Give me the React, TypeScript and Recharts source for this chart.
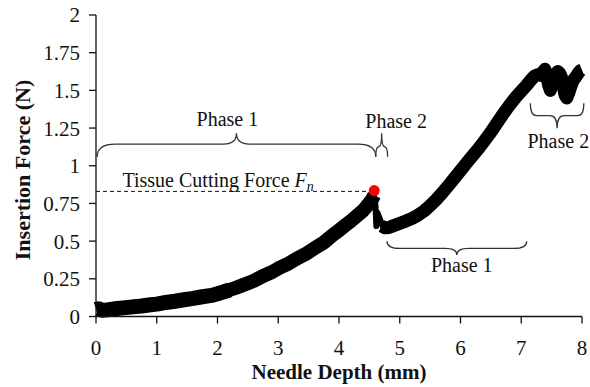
import React from 'react';
import { LineChart, Line, XAxis, YAxis, ReferenceLine, ReferenceDot, ReferenceArea, Label } from 'recharts';

const serif = "'Times New Roman', 'Liberation Serif', serif";

// axis ticks
const depthTicks = [0, 1, 2, 3, 4, 5, 6, 7, 8];
const forceTicks = [0, 0.25, 0.5, 0.75, 1, 1.25, 1.5, 1.75, 2];

// loading ramp up to the tissue-cutting event (early, noisier part)
const earlyDepth = [0, 0.04, 0.1, 0.18, 0.3, 0.45, 0.6, 0.75, 0.9, 1.0, 1.15, 1.3, 1.45, 1.6, 1.75, 1.9, 2.0, 2.1, 2.2];
const earlyForce = [0.047, 0.052, 0.042, 0.044, 0.051, 0.057, 0.064, 0.07, 0.078, 0.082, 0.093, 0.101, 0.111, 0.12, 0.131, 0.14, 0.151, 0.163, 0.177];

// loading ramp, later part
const rampDepth = [2.1, 2.2, 2.3, 2.45, 2.6, 2.75, 2.9, 3.0, 3.15, 3.3, 3.45, 3.6, 3.75, 3.9, 4.0, 4.1, 4.2, 4.3, 4.4, 4.48, 4.54, 4.58];
const rampForce = [0.163, 0.177, 0.19, 0.213, 0.237, 0.269, 0.295, 0.319, 0.347, 0.383, 0.414, 0.453, 0.491, 0.541, 0.571, 0.605, 0.635, 0.669, 0.704, 0.743, 0.774, 0.805];

// sudden drop after puncture
const dropDepth = [4.575, 4.6, 4.615, 4.63, 4.68, 4.72, 4.76];
const dropForce = [0.8, 0.74, 0.6, 0.69, 0.64, 0.6, 0.588];

// reloading after cutting
const reloadDepth = [4.7, 4.76, 4.82, 4.9, 5.0, 5.1, 5.2, 5.3, 5.4, 5.5, 5.6, 5.7, 5.8, 5.9, 6.0, 6.1, 6.2, 6.3, 6.4, 6.5, 6.6, 6.7, 6.8, 6.9, 7.0, 7.08, 7.15, 7.22, 7.28, 7.32, 7.36, 7.39, 7.42, 7.45, 7.48, 7.52, 7.56, 7.6, 7.63, 7.66, 7.69, 7.72, 7.75, 7.78, 7.82, 7.86, 7.9, 7.94, 7.97, 8.0];
const reloadForce = [0.6, 0.588, 0.59, 0.603, 0.618, 0.633, 0.65, 0.672, 0.7, 0.735, 0.775, 0.82, 0.868, 0.918, 0.968, 1.018, 1.067, 1.115, 1.168, 1.223, 1.283, 1.343, 1.398, 1.45, 1.495, 1.53, 1.565, 1.595, 1.605, 1.6, 1.625, 1.64, 1.6, 1.535, 1.5, 1.56, 1.6, 1.625, 1.615, 1.59, 1.53, 1.47, 1.45, 1.48, 1.53, 1.57, 1.59, 1.615, 1.63, 1.635];

// tissue cutting force point
const cuttingDepth = 4.58;
const cuttingForce = 0.835;
const cuttingLineForce = 0.83;

// annotation braces (data coordinates)
const braces = [
  { x1: 0.02, x2: 4.605, tip: 1.06, line: 1.144, cusp: 1.215, r1: 18, r2: 13 },
  { x1: 4.605, x2: 4.8, tip: 1.06, line: 1.126, cusp: 1.215, r1: 3, r2: 3 },
  { x1: 4.79, x2: 7.09, tip: 0.5, line: 0.452, cusp: 0.408, r1: 13, r2: 12 },
  { x1: 7.15, x2: 8.03, tip: 1.414, line: 1.332, cusp: 1.248, r1: 6, r2: 7 },
];

// annotation texts (data coordinates of anchor / baseline)
const phaseLabels = [
  { text: 'Phase 1', x: 2.163, y: 1.264 },
  { text: 'Phase 2', x: 4.94, y: 1.248 },
  { text: 'Phase 1', x: 6.02, y: 0.297 },
  { text: 'Phase 2', x: 7.61, y: 1.116 },
];
const cuttingLabel = { x: 0.436, y: 0.86 };

const toRows = (xs: number[], ys: number[]) => xs.map((d, i) => ({ depth: d, force: ys[i] }));

const braceShape = (b: any) => (p: any) => {
  const { x, y, width, height } = p;
  const x1 = x;
  const x2 = x + width;
  const xm = x + width / 2;
  const top = Math.max(b.tip, b.cusp);
  const bot = Math.min(b.tip, b.cusp);
  const toPx = (v: number) => y + (height * (top - v)) / (top - bot);
  const yT = toPx(b.tip);
  const yL = toPx(b.line);
  const yC = toPx(b.cusp);
  const d = `M${x1},${yT} Q${x1},${yL} ${x1 + b.r1},${yL} L${xm - b.r2},${yL} Q${xm},${yL} ${xm},${yC} Q${xm},${yL} ${xm + b.r2},${yL} L${x2 - b.r1},${yL} Q${x2},${yL} ${x2},${yT}`;
  return <path d={d} fill="none" stroke="#333" strokeWidth={1.3} />;
};

const textShape = (text: string) => (p: any) => (
  <text x={p.cx} y={p.cy} textAnchor="middle" fontFamily={serif} fontSize={20} fill="#111">
    {text}
  </text>
);

const cuttingShape = (p: any) => (
  <text x={p.cx} y={p.cy} textAnchor="start" fontFamily={serif} fontSize={20} fill="#111">
    Tissue Cutting Force <tspan fontStyle="italic">F</tspan>
    <tspan fontStyle="italic" fontSize={14} dy={4}>n</tspan>
  </text>
);

const yLabel = (p: any) => {
  const vb = p.viewBox || { x: 0, y: 15, width: 96, height: 301.5 };
  const cx = vb.x + 30;
  const cy = 170;
  return (
    <text x={cx} y={cy} transform={`rotate(-90 ${cx} ${cy})`} textAnchor="middle" fontFamily={serif} fontWeight="bold" fontSize={22} fill="#111">
      Insertion Force (N)
    </text>
  );
};

const lineProps = { dataKey: 'force', type: 'linear' as const, stroke: '#000', strokeLinejoin: 'round' as const, dot: false, isAnimationActive: false };

export default function App() {
  const tick = { fontFamily: serif, fontSize: 21, fill: '#111' };
  return (
    <div style={{ position: 'absolute', left: 0, top: 0 }}>
      <LineChart width={590} height={387} margin={{ top: 15, right: 8, left: 0, bottom: 0 }}>
        <XAxis
          dataKey="depth"
          type="number"
          domain={[0, 8]}
          ticks={depthTicks}
          allowDuplicatedCategory={false}
          height={70.5}
          tickSize={7}
          tickMargin={17}
          tick={tick}
          axisLine={{ stroke: '#111', strokeWidth: 1.3 }}
          tickLine={{ stroke: '#111', strokeWidth: 1.3 }}
        >
          <Label value="Needle Depth (mm)" position="insideBottom" offset={8} fontFamily={serif} fontWeight="bold" fontSize={21} fill="#111" />
        </XAxis>
        <YAxis
          type="number"
          domain={[0, 2]}
          ticks={forceTicks}
          width={96}
          tickSize={7}
          tickMargin={9}
          tick={tick}
          axisLine={{ stroke: '#111', strokeWidth: 1.3 }}
          tickLine={{ stroke: '#111', strokeWidth: 1.3 }}
          label={yLabel}
        />
        {braces.map((b, i) => (
          <ReferenceArea key={'b' + i} x1={b.x1} x2={b.x2} y1={Math.min(b.tip, b.cusp)} y2={Math.max(b.tip, b.cusp)} ifOverflow="visible" shape={braceShape(b)} />
        ))}
        <ReferenceLine
          segment={[{ x: 0, y: cuttingLineForce }, { x: cuttingDepth, y: cuttingLineForce }]}
          stroke="#111"
          strokeWidth={1}
          strokeDasharray="4 3"
          ifOverflow="visible"
        />
        <Line {...lineProps} data={toRows(earlyDepth, earlyForce)} strokeWidth={15} strokeLinecap="butt" />
        <Line {...lineProps} data={toRows(rampDepth, rampForce)} strokeWidth={14} strokeLinecap="butt" />
        <Line {...lineProps} data={toRows(dropDepth, dropForce)} strokeWidth={6} strokeLinecap="round" />
        <Line {...lineProps} data={toRows(reloadDepth, reloadForce)} strokeWidth={13} strokeLinecap="butt" />
        {phaseLabels.map((t, i) => (
          <ReferenceDot key={'t' + i} x={t.x} y={t.y} r={1} ifOverflow="visible" shape={textShape(t.text)} />
        ))}
        <ReferenceDot x={cuttingLabel.x} y={cuttingLabel.y} r={1} ifOverflow="visible" shape={cuttingShape} />
        <ReferenceDot x={cuttingDepth} y={cuttingForce} r={5.5} fill="#ff0000" stroke="none" ifOverflow="visible" />
      </LineChart>
    </div>
  );
}
